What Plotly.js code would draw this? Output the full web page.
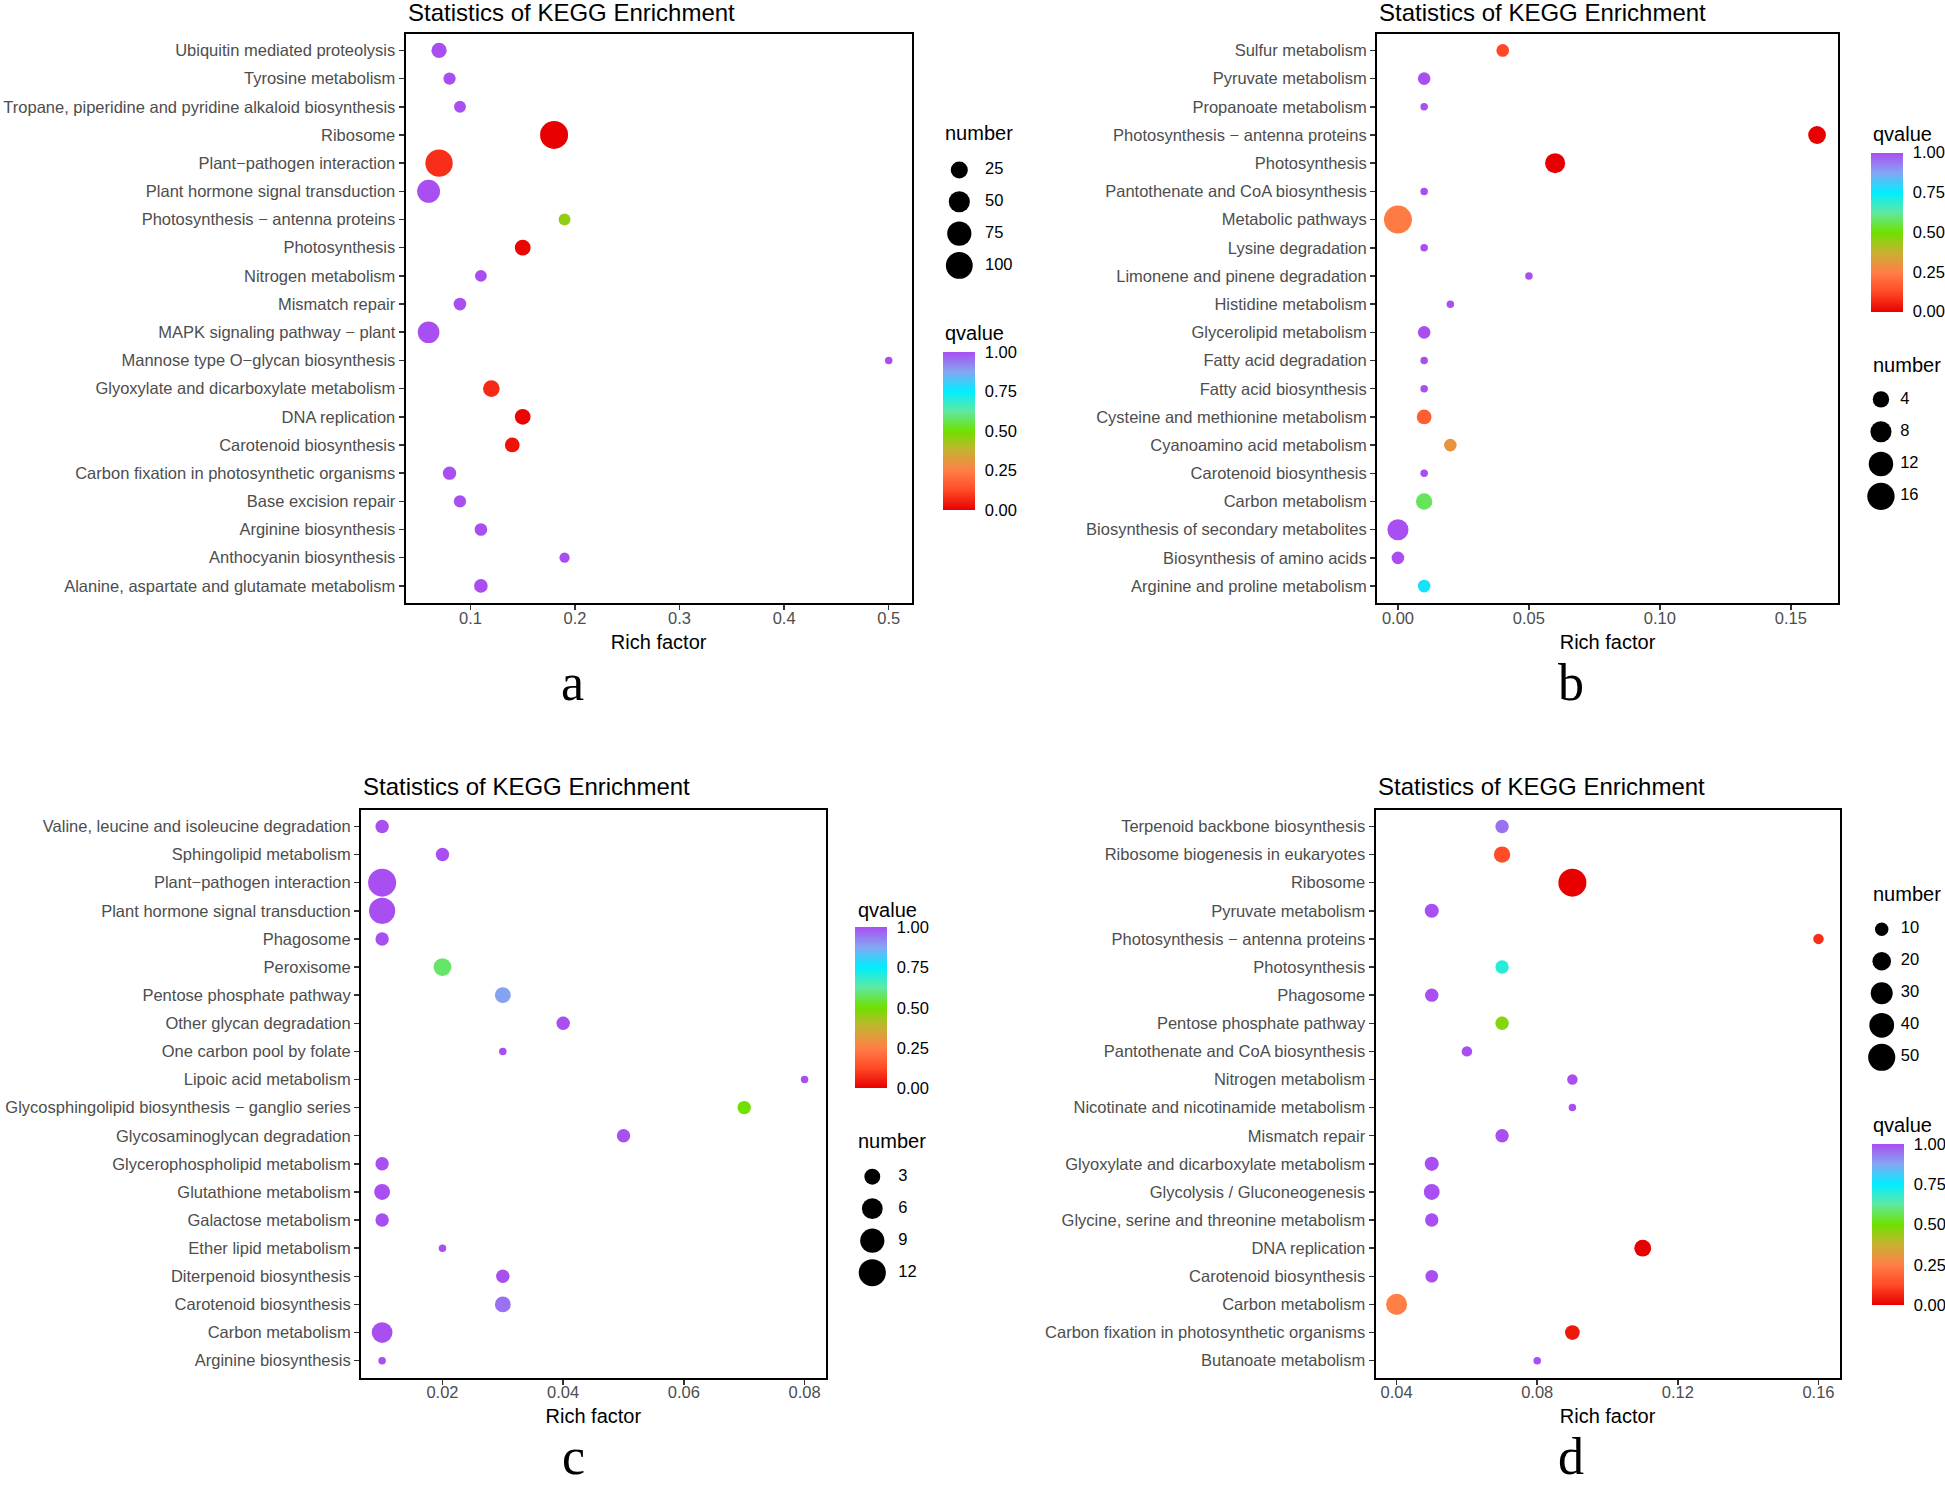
<!DOCTYPE html>
<html><head><meta charset="utf-8">
<script src="https://cdn.plot.ly/plotly-3.0.1.min.js"></script>
<style>html,body{margin:0;padding:0;background:#fff}#chart{width:1945px;height:1487px}</style>
</head><body><div id="chart"></div>
<script>
// ---------------- DATA ----------------
const catsA = ["Ubiquitin mediated proteolysis","Tyrosine metabolism","Tropane, piperidine and pyridine alkaloid biosynthesis","Ribosome","Plant\u2212pathogen interaction","Plant hormone signal transduction","Photosynthesis \u2212 antenna proteins","Photosynthesis","Nitrogen metabolism","Mismatch repair","MAPK signaling pathway \u2212 plant","Mannose type O\u2212glycan biosynthesis","Glyoxylate and dicarboxylate metabolism","DNA replication","Carotenoid biosynthesis","Carbon fixation in photosynthetic organisms","Base excision repair","Arginine biosynthesis","Anthocyanin biosynthesis","Alanine, aspartate and glutamate metabolism"];
const richA = [0.07,0.08,0.09,0.18,0.07,0.06,0.19,0.15,0.11,0.09,0.06,0.50,0.12,0.15,0.14,0.08,0.09,0.11,0.19,0.11];
const numA  = [17,7,6,112,105,64,6,19,6,8,54,1,23,19,15,10,7,8,3,11];
const qA    = [1,1,1,0,0.08,1,0.45,0.01,1,1,1,1,0.07,0.01,0.03,1,1,1,1,1];
const sizeBreaksA = [25,50,75,100];

const catsB = ["Sulfur metabolism","Pyruvate metabolism","Propanoate metabolism","Photosynthesis \u2212 antenna proteins","Photosynthesis","Pantothenate and CoA biosynthesis","Metabolic pathways","Lysine degradation","Limonene and pinene degradation","Histidine metabolism","Glycerolipid metabolism","Fatty acid degradation","Fatty acid biosynthesis","Cysteine and methionine metabolism","Cyanoamino acid metabolism","Carotenoid biosynthesis","Carbon metabolism","Biosynthesis of secondary metabolites","Biosynthesis of amino acids","Arginine and proline metabolism"];
const richB = [0.04,0.01,0.01,0.16,0.06,0.01,0.00,0.01,0.05,0.02,0.01,0.01,0.01,0.01,0.02,0.01,0.01,0.00,0.00,0.01];
const numB  = [2,2,1,5,7,1,17,1,1,1,2,1,1,3,2,1,4,8,2,2];
const qB    = [0.12,1,1,0,0,1,0.24,1,1,1,1,1,1,0.17,0.30,1,0.57,1,1,0.77];
const sizeBreaksB = [4,8,12,16];

const catsC = ["Valine, leucine and isoleucine degradation","Sphingolipid metabolism","Plant\u2212pathogen interaction","Plant hormone signal transduction","Phagosome","Peroxisome","Pentose phosphate pathway","Other glycan degradation","One carbon pool by folate","Lipoic acid metabolism","Glycosphingolipid biosynthesis \u2212 ganglio series","Glycosaminoglycan degradation","Glycerophospholipid metabolism","Glutathione metabolism","Galactose metabolism","Ether lipid metabolism","Diterpenoid biosynthesis","Carotenoid biosynthesis","Carbon metabolism","Arginine biosynthesis"];
const richC = [0.01,0.02,0.01,0.01,0.01,0.02,0.03,0.04,0.03,0.08,0.07,0.05,0.01,0.01,0.01,0.02,0.03,0.03,0.01,0.01];
const numC  = [2,2,13,11,2,4,3,2,1,1,2,2,2,3,2,1,2,3,6,1];
const qC    = [1,1,1,1,1,0.58,0.88,1,1,1,0.5,1,1,1,1,1,1,0.95,1,1];
const sizeBreaksC = [3,6,9,12];

const catsD = ["Terpenoid backbone biosynthesis","Ribosome biogenesis in eukaryotes","Ribosome","Pyruvate metabolism","Photosynthesis \u2212 antenna proteins","Photosynthesis","Phagosome","Pentose phosphate pathway","Pantothenate and CoA biosynthesis","Nitrogen metabolism","Nicotinate and nicotinamide metabolism","Mismatch repair","Glyoxylate and dicarboxylate metabolism","Glycolysis / Gluconeogenesis","Glycine, serine and threonine metabolism","DNA replication","Carotenoid biosynthesis","Carbon metabolism","Carbon fixation in photosynthetic organisms","Butanoate metabolism"];
const richD = [0.07,0.07,0.09,0.05,0.16,0.07,0.05,0.07,0.06,0.09,0.09,0.07,0.05,0.05,0.05,0.11,0.05,0.04,0.09,0.08];
const numD  = [10,15,54,11,7,10,10,10,7,7,6,10,11,14,10,16,9,27,12,6];
const qD    = [0.95,0.13,0,1,0.08,0.7,1,0.47,1,1,1,1,1,1,1,0,1,0.25,0.04,1];
const sizeBreaksD = [10,20,30,40,50];

const qTicks = [0, 0.25, 0.5, 0.75, 1];
const panelTitle = "Statistics of KEGG Enrichment";
const xTitle = "Rich factor";
const tags = ["a","b","c","d"];

// ---------------- STYLE / LAYOUT ----------------
const W = 1945, H = 1487;
const FONT = "Liberation Sans, Arial, Helvetica, sans-serif";
const colorscale = [
  [0.0,'#E80000'],[0.125,'#FF4A26'],[0.25,'#FF7F47'],[0.375,'#C8B132'],
  [0.5,'#70E000'],[0.625,'#5FE9A2'],[0.75,'#00EEFF'],[0.875,'#84A6F3'],[1.0,'#A94EF0']
];
const DMIN = 7.5, DRANGE = 20.5;

const panels = [
  {cats:catsA, rich:richA, num:numA, q:qA, breaks:sizeBreaksA, dtick:0.1, fmt:'.1f',
   frame:{L:405.6,R:911.7,T:33.5,B:602.8}, titleY:12,
   bar:{L:942.7,T:352,len:158,w:32}, qTitle:{x:943.3,y:333},
   size:{cx:959.3,lx:985,y0:170,dy:31.8}, nTitle:{x:943.3,y:133.3}, tag:{x:572,y:682}},
  {cats:catsB, rich:richB, num:numB, q:qB, breaks:sizeBreaksB, dtick:0.05, fmt:'.2f',
   frame:{L:1377,R:1838,T:33.5,B:603}, titleY:12,
   bar:{L:1870.7,T:152.7,len:159,w:32}, qTitle:{x:1870.7,y:134},
   size:{cx:1886,lx:1911.7,y0:399.4,dy:32.3}, nTitle:{x:1870.7,y:365}, tag:{x:1571,y:682}},
  {cats:catsC, rich:richC, num:numC, q:qC, breaks:sizeBreaksC, dtick:0.02, fmt:'.2f',
   frame:{L:361,R:825.7,T:809.6,B:1377.5}, titleY:786.5,
   bar:{L:855,T:927.3,len:161,w:32}, qTitle:{x:856,y:910},
   size:{cx:872.3,lx:898.3,y0:1176.7,dy:32}, nTitle:{x:856,y:1141}, tag:{x:573,y:1456.5}},
  {cats:catsD, rich:richD, num:numD, q:qD, breaks:sizeBreaksD, dtick:0.04, fmt:'.2f',
   frame:{L:1375.5,R:1839.6,T:809.6,B:1377.5}, titleY:786.5,
   bar:{L:1871.7,T:1144,len:161,w:32}, qTitle:{x:1870.7,y:1125},
   size:{cx:1887,lx:1913,y0:929.3,dy:32}, nTitle:{x:1870.7,y:894}, tag:{x:1571,y:1456.5}}
];

const px = v => v / W;
const py = v => 1 - v / H;

const data = [];
const layout = {
  width: W, height: H,
  margin: {l:0, r:0, t:0, b:0, autoexpand:false},
  paper_bgcolor: '#fff', plot_bgcolor: '#fff',
  showlegend: false,
  font: {family: FONT},
  annotations: []
};

panels.forEach((p, i) => {
  const k = i + 1;
  const xa = 'xaxis' + (k === 1 ? '' : k), ya = 'yaxis' + (k === 1 ? '' : k);
  const xr = 'x' + (k === 1 ? '' : k), yr = 'y' + (k === 1 ? '' : k);
  const nmin = Math.min(...p.num), nmax = Math.max(...p.num);
  const sizeFn = n => DMIN + DRANGE * Math.sqrt(Math.max(0, n - nmin) / (nmax - nmin));
  const rmin = Math.min(...p.rich), rmax = Math.max(...p.rich);
  const pad = (rmax - rmin) * 0.05;

  layout[xa] = {
    domain: [px(p.frame.L), px(p.frame.R)], anchor: yr,
    range: [rmin - pad, rmax + pad], tick0: 0, dtick: p.dtick, tickformat: p.fmt,
    showgrid: false, zeroline: false, showline: true, mirror: true, linecolor: '#000', linewidth: 2,
    ticks: 'outside', ticklen: 5, tickwidth: 1.5, tickcolor: '#333', ticklabelstandoff: -6,
    tickfont: {family: FONT, size: 16.5, color: '#4D4D4D'},
    title: {text: xTitle, font: {family: FONT, size: 20, color: '#000'}, standoff: 9},
    fixedrange: true
  };
  layout[ya] = {
    domain: [py(p.frame.B), py(p.frame.T)], anchor: xr,
    type: 'category', categoryorder: 'array', categoryarray: p.cats,
    range: [p.cats.length - 0.4, -0.6],
    showgrid: false, zeroline: false, showline: true, mirror: true, linecolor: '#000', linewidth: 2,
    ticks: 'outside', ticklen: 5, tickwidth: 1.5, tickcolor: '#333',
    tickfont: {family: FONT, size: 16.5, color: '#4D4D4D'},
    fixedrange: true
  };

  data.push({
    type: 'scatter', mode: 'markers', xaxis: xr, yaxis: yr,
    x: p.rich, y: p.cats, hoverinfo: 'skip',
    marker: {
      size: p.num.map(sizeFn), sizemode: 'diameter', opacity: 1,
      color: p.q, cmin: 0, cmax: 1, colorscale: colorscale, line: {width: 0},
      showscale: true,
      colorbar: {
        x: px(p.bar.L), xanchor: 'left', xpad: 0, xref: 'paper',
        y: py(p.bar.T), yanchor: 'top', ypad: 0, yref: 'paper',
        len: p.bar.len, lenmode: 'pixels', thickness: p.bar.w, thicknessmode: 'pixels',
        outlinewidth: 0, borderwidth: 0,
        tickvals: qTicks, tickformat: '.2f', ticks: 'outside', ticklen: 7, tickwidth: 1.5, tickcolor: '#fff',
        tickfont: {family: FONT, size: 16.5, color: '#000'},
        title: {text: ''}
      }
    }
  });

  // size legend on a hidden axis pair
  const lk = 4 + k;
  const L = p.size.cx - 20, R = p.size.lx + 60;
  const unit = p.size.lx - p.size.cx;
  const nb = p.breaks.length;
  const top = p.size.y0 - p.size.dy / 2, bot = p.size.y0 + (nb - 0.5) * p.size.dy;
  layout['xaxis' + lk] = {domain: [px(L), px(R)], anchor: 'y' + lk, range: [(L - p.size.cx) / unit, (R - p.size.cx) / unit], visible: false, fixedrange: true};
  layout['yaxis' + lk] = {domain: [py(bot), py(top)], anchor: 'x' + lk, type: 'category', categoryorder: 'array',
                 categoryarray: p.breaks.map(String), range: [nb - 0.5, -0.5], visible: false, fixedrange: true};
  data.push({
    type: 'scatter', mode: 'markers', xaxis: 'x' + lk, yaxis: 'y' + lk, cliponaxis: false,
    x: p.breaks.map(() => 0), y: p.breaks.map(String), hoverinfo: 'skip',
    marker: {size: p.breaks.map(sizeFn), sizemode: 'diameter', color: '#000', opacity: 1, line: {width: 0}}
  });
  data.push({
    type: 'scatter', mode: 'text', xaxis: 'x' + lk, yaxis: 'y' + lk, cliponaxis: false,
    x: p.breaks.map(() => 1), y: p.breaks.map(String), text: p.breaks.map(String),
    textposition: 'middle right', hoverinfo: 'skip',
    textfont: {family: FONT, size: 16.5, color: '#000'}
  });

  // texts: panel title, legend titles, panel tag
  layout.annotations.push(
    {xref:'paper', yref:'paper', x:px(p.frame.L), y:py(p.titleY), xanchor:'left', yanchor:'middle', showarrow:false,
     text:panelTitle, font:{family:FONT, size:24, color:'#000'}},
    {xref:'paper', yref:'paper', x:px(p.qTitle.x), y:py(p.qTitle.y), xanchor:'left', yanchor:'middle', showarrow:false,
     text:'qvalue', font:{family:FONT, size:20, color:'#000'}},
    {xref:'paper', yref:'paper', x:px(p.nTitle.x), y:py(p.nTitle.y), xanchor:'left', yanchor:'middle', showarrow:false,
     text:'number', font:{family:FONT, size:20, color:'#000'}},
    {xref:'paper', yref:'paper', x:px(p.tag.x), y:py(p.tag.y), xanchor:'center', yanchor:'middle', showarrow:false,
     text:tags[i], font:{family:'Liberation Serif, Times New Roman, serif', size:52, color:'#000'}}
  );
});

Plotly.newPlot('chart', data, layout, {staticPlot: true, displayModeBar: false});
</script></body></html>
